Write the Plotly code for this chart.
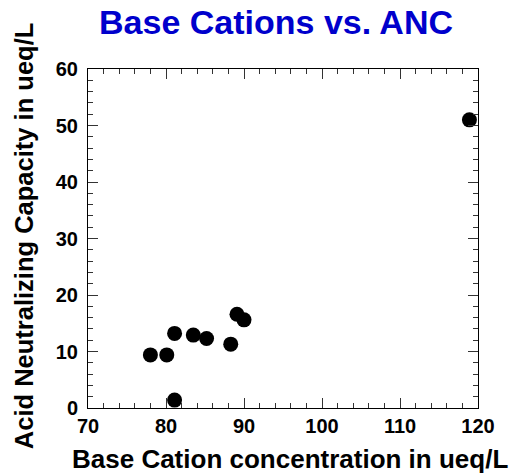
import plotly.graph_objects as go

base_cations = [78.0, 80.1, 81.1, 81.1, 83.5, 85.2, 88.3, 89.1, 90.0, 118.9]
anc = [9.4, 9.4, 13.2, 1.4, 12.9, 12.3, 11.3, 16.6, 15.6, 51.0]

title_text = "Base Cations vs. ANC"
x_title = "Base Cation concentration in ueq/L"
y_title = "Acid Neutralizing Capacity in ueq/L"
x_ticks = [70, 80, 90, 100, 110, 120]
y_ticks = [0, 10, 20, 30, 40, 50, 60]

FONT = "Liberation Sans, Arial, sans-serif"

fig = go.Figure(go.Scatter(
    x=base_cations, y=anc, mode="markers",
    marker=dict(size=15, color="black"),
))

axis_common = dict(
    showgrid=False, zeroline=False, showline=True, linecolor="black", linewidth=1,
    mirror="ticks", ticks="inside", ticklen=10, tickwidth=1, tickcolor="#333",
    tickfont=dict(family=FONT, size=20, color="black", weight="bold"),
)

fig.update_xaxes(
    range=[70, 120], tickvals=x_ticks,
    minor=dict(ticks="inside", dtick=2, ticklen=5, tickcolor="#333", tickwidth=1),
    **axis_common,
)
fig.update_yaxes(
    range=[0, 60], tickvals=y_ticks, ticklabelstandoff=5,
    minor=dict(ticks="inside", dtick=2, ticklen=5, tickcolor="#333", tickwidth=1),
    **axis_common,
)

fig.add_annotation(text=x_title, xref="paper", yref="paper", x=0.518, y=-0.150,
                   xanchor="center", yanchor="middle", showarrow=False,
                   font=dict(family=FONT, size=26, color="black", weight="bold"))
fig.add_annotation(text=y_title, xref="paper", yref="paper", x=-0.164, y=0.507,
                   xanchor="center", yanchor="middle", showarrow=False, textangle=-90,
                   font=dict(family=FONT, size=25.5, color="black", weight="bold"))

fig.update_layout(
    width=516, height=476,
    margin=dict(l=88, r=38, t=69, b=68),
    paper_bgcolor="white", plot_bgcolor="white",
    showlegend=False,
    title=dict(text=title_text, x=0.535, xanchor="center", y=0.979, yanchor="top",
               font=dict(family=FONT, size=34, color="#0000CC", weight="bold")),
)

fig.write_html("out.html")
